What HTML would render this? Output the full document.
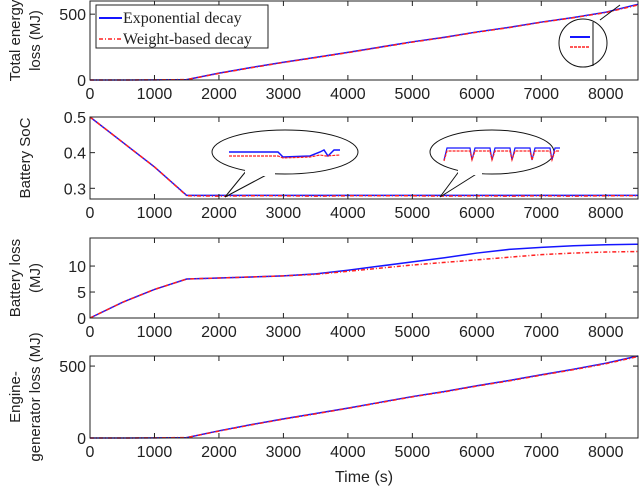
<!DOCTYPE html><html><head><meta charset="utf-8"><style>
body{margin:0;background:#fff}svg{display:block}
text{font-family:"Liberation Sans",sans-serif;font-size:16px;fill:#222}
.yl{font-size:15px}
</style></head><body>
<svg id="c" width="640" height="488"></svg>
<script>
const times=[0,500,1000,1500,2000,2500,3000,3500,4000,4500,5000,5500,6000,6500,7000,7500,8000,8500];
const totalExp=[0,0,1,3,52,95,135,172,210,250,290,325,365,400,440,475,515,575];
const totalWb=[0,0,1,3,50,93,133,170,208,248,288,323,363,398,438,473,512,570];
const socExp=[0.5,0.43,0.36,0.28,0.28,0.28,0.28,0.28,0.28,0.28,0.28,0.28,0.28,0.28,0.28,0.28,0.28,0.28];
const socWb=[0.5,0.43,0.36,0.279,0.278,0.279,0.279,0.278,0.279,0.279,0.279,0.278,0.279,0.278,0.279,0.278,0.279,0.279];
const battExp=[0,3,5.5,7.5,7.7,7.9,8.1,8.5,9.2,10,10.8,11.6,12.5,13.2,13.6,13.9,14.1,14.2];
const battWb=[0,3,5.5,7.5,7.7,7.9,8.1,8.4,9,9.6,10.2,10.7,11.2,11.7,12.2,12.5,12.7,12.8];
const engExp=[0,0,1,3,50,93,133,170,208,248,288,323,363,400,440,478,520,570];
const engWb=[0,0,1,3,48,91,131,168,206,246,286,321,361,397,437,475,516,566];
const xTicks=[0,1000,2000,3000,4000,5000,6000,7000,8000];
const svg=document.getElementById('c');const NS='http://www.w3.org/2000/svg';
function el(t,a,p){const e=document.createElementNS(NS,t);for(const k in a)e.setAttribute(k,a[k]);(p||svg).appendChild(e);return e;}
const X0=90,X1=638;const xs=v=>X0+(v/8500)*(X1-X0);
const panels=[
{top:1,bot:80,ymin:0,ymax:600,yt:[0,500],yl:['0','500'],lab:['Total energy','loss (MJ)'],a:totalExp,b:totalWb,name:'total-energy-panel'},
{top:117,bot:199,ymin:0.27,ymax:0.5,yt:[0.3,0.4,0.5],yl:['0.3','0.4','0.5'],lab:['Battery SoC'],a:socExp,b:socWb,name:'battery-soc-panel'},
{top:238,bot:318,ymin:0,ymax:15.4,yt:[0,5,10],yl:['0','5','10'],lab:['Battery loss','(MJ)'],a:battExp,b:battWb,name:'battery-loss-panel'},
{top:356,bot:438,ymin:0,ymax:570,yt:[0,500],yl:['0','500'],lab:['Engine-','generator loss (MJ)'],a:engExp,b:engWb,name:'engine-loss-panel'}];
panels.forEach(p=>{
 const g=el('g',{});
 const ys=v=>p.bot-(v-p.ymin)/(p.ymax-p.ymin)*(p.bot-p.top);
 const line=(arr,st,dash,nm)=>{const l=el('polyline',{points:arr.map((v,i)=>xs(times[i])+','+ys(v)).join(' '),fill:'none',stroke:st,'stroke-width':1.5,'stroke-dasharray':dash},g);};
 line(p.a,'#1515ff','', 'exponential-decay-line');
 line(p.b,'#ff2020','4 2 1 2','weight-based-decay-line');
 el('rect',{x:X0,y:p.top,width:X1-X0,height:p.bot-p.top,fill:'none',stroke:'#222','stroke-width':1},g);
 xTicks.forEach(t=>{el('line',{x1:xs(t),x2:xs(t),y1:p.bot,y2:p.bot-5,stroke:'#222'},g);el('line',{x1:xs(t),x2:xs(t),y1:p.top,y2:p.top+5,stroke:'#222'},g);
  const tx=el('text',{x:xs(t),y:p.bot+19,'text-anchor':'middle'},g);tx.textContent=t;});
 p.yt.forEach((t,i)=>{el('line',{x1:X0,x2:X0+5,y1:ys(t),y2:ys(t),stroke:'#222'},g);el('line',{x1:X1,x2:X1-5,y1:ys(t),y2:ys(t),stroke:'#222'},g);
  const tx=el('text',{x:X0-4,y:ys(t)+6,'text-anchor':'end'},g);tx.textContent=p.yl[i];});
 const cy=(p.top+p.bot)/2,n=p.lab.length;
 p.lab.forEach((s,i)=>{const x=30+(i-(n-1)/2)*20;const tx=el('text',{x:x,y:cy,'text-anchor':'middle',class:'yl',transform:`rotate(-90 ${x} ${cy})`},g);tx.textContent=s;});
});
const xt=el('text',{x:364,y:482,'text-anchor':'middle'});xt.textContent='Time (s)';
const lg=el('g',{});
el('rect',{x:96,y:5,width:172,height:43,fill:'#fff',stroke:'#222'},lg);
el('line',{x1:99,x2:122,y1:18,y2:18,stroke:'#1515ff','stroke-width':2},lg);
el('line',{x1:99,x2:122,y1:39,y2:39,stroke:'#ff2020','stroke-width':1.5,'stroke-dasharray':'4 2 1 2'},lg);
let t=el('text',{x:123,y:23,style:'font-family:Liberation Serif,serif;font-size:16px'},lg);t.textContent='Exponential decay';
t=el('text',{x:123,y:44,style:'font-family:Liberation Serif,serif;font-size:16px'},lg);t.textContent='Weight-based decay';
const co=el('g',{});
el('path',{d:'M247,170 L225,197 L270,173',fill:'#fff',stroke:'#111'},co);
el('ellipse',{cx:285,cy:152,rx:73,ry:22,fill:'#fff',stroke:'#111'},co);
el('rect',{x:245,y:170,width:30,height:6,fill:'#fff'},co);
el('polyline',{points:'229,152 278,152 283,157 310,156 320,152 324,150 328,156 334,150 340,150',fill:'none',stroke:'#1515ff','stroke-width':1.5},co);
el('polyline',{points:'229,156 278,156 283,158 310,157 320,155 326,156 340,155',fill:'none',stroke:'#ff2020','stroke-width':1.2,'stroke-dasharray':'3 1'},co);
el('path',{d:'M460,170 L440,197 L478,173',fill:'#fff',stroke:'#111'},co);
el('ellipse',{cx:492,cy:152,rx:62,ry:22,fill:'#fff',stroke:'#111'},co);
el('rect',{x:458,y:169,width:24,height:6,fill:'#fff'},co);
el('polyline',{points:'444,160 447,148 470,148 472,160 475,148 490,148 492,160 495,148 510,148 512,160 515,148 530,148 532,160 535,148 550,148 552,160 555,148 560,148',fill:'none',stroke:'#1515ff','stroke-width':1.2},co);
el('polyline',{points:'444,161 447,151 470,151 472,160 475,151 490,151 492,160 495,151 510,151 512,160 515,151 530,151 532,160 535,151 550,151 552,160 555,151 560,151',fill:'none',stroke:'#ff2020','stroke-width':1.2,'stroke-dasharray':'3 1'},co);
el('line',{x1:600,x2:620,y1:20,y2:5,stroke:'#111'},co);
el('circle',{cx:583,cy:43,r:24,fill:'#fff',stroke:'#111'},co);
el('line',{x1:570,x2:590,y1:37,y2:37,stroke:'#1515ff','stroke-width':2},co);
el('line',{x1:570,x2:590,y1:47,y2:47,stroke:'#ff2020','stroke-width':1.5,'stroke-dasharray':'3 1'},co);
el('line',{x1:593,x2:593,y1:22,y2:66,stroke:'#111'},co);
</script></body></html>
